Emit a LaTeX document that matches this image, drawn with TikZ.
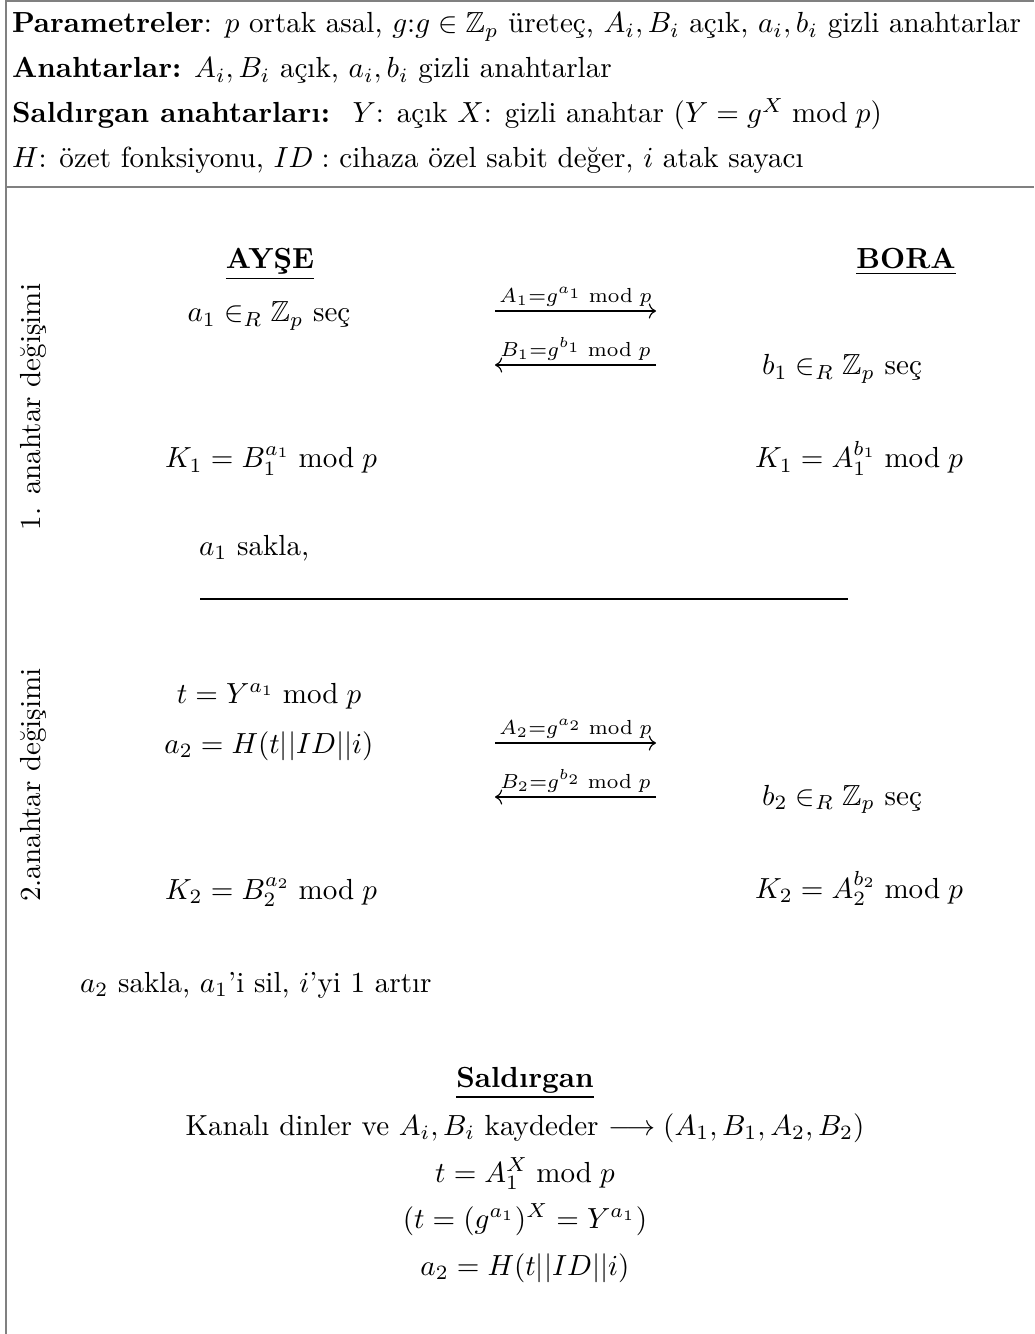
\documentclass[tikz,border=0pt]{standalone}
\usepackage{amsmath}
\usepackage{amssymb}
\usetikzlibrary{arrows.meta,positioning}

\begin{document}
\begin{tikzpicture}[
        x=0.344pt, y=-0.344pt,
        every node/.style={inner sep=0pt, outer sep=0pt},
        frame/.style={draw=black!50, line width=0.8pt},
        party/.style={font=\bfseries, anchor=base},
        step text/.style={anchor=base},
        msg/.style={draw, line width=0.4pt, ->},
        msglabel/.style={font=\scriptsize, above=1.5pt},
    ]
    \useasboundingbox (0,0) rectangle (1034,1334);

    % === FRAME ===
    \coordinate (tl) at (6,1);
    \coordinate (tr) at (1034,1);
    \coordinate (bl) at (6,1334);
    \coordinate (ml) at (6,187);
    \coordinate (mr) at (1034,187);
    \draw[frame] (tr) -- (tl) -- (bl);
    \draw[frame] (ml) -- (mr);

    % === HEADER ===
    \node[anchor=base west] (par) at (12,33) {\textbf{Parametreler}: $p$ ortak asal, $g$:$g\in\mathbb{Z}_p$ üreteç, $A_i,B_i$ açık, $a_i,b_i$ gizli anahtarlar};
    \node[anchor=base west] (keys) at (12,78) {\textbf{Anahtarlar:} $A_i,B_i$ açık, $a_i,b_i$ gizli anahtarlar};
    \node[anchor=base west] (advkeys) at (12,123) {\textbf{Saldırgan anahtarları:} \ $Y$: açık $X$: gizli anahtar $(Y=g^X \bmod p)$};
    \node[anchor=base west] (notes) at (12,168) {$H$: özet fonksiyonu, $ID:$ cihaza özel sabit değer, $i$ atak sayacı};

    % === 1. KEY EXCHANGE ===
    \node[party] (ayse) at (270,269) {\underline{AYŞE}};
    \node[party] (bora) at (906,269) {\underline{BORA}};
    \node[rotate=90] (round1) at (33,407) {1. anahtar değişimi};

    \node[step text] (a1) at (269,322) {$a_1 \in_R \mathbb{Z}_p$ seç};
    \node[step text] (b1) at (842,375) {$b_1 \in_R \mathbb{Z}_p$ seç};
    \node[step text] (K1a) at (271,468) {$K_1 = B_1^{a_1} \bmod p$};
    \node[step text] (K1b) at (859,468) {$K_1 = A_1^{b_1} \bmod p$};

    \coordinate (m1l) at (495,311);
    \coordinate (m1r) at (656,311);
    \coordinate (m2l) at (495,365);
    \coordinate (m2r) at (656,365);
    \draw[msg] (m1l) -- node[msglabel] {$A_1{=}g^{a_1} \bmod p$} (m1r);
    \draw[msg] (m2r) -- node[msglabel] {$B_1{=}g^{b_1} \bmod p$} (m2l);

    \node[anchor=base west] (keep1) at (199,555) {$a_1$ sakla,};
    \coordinate (sepl) at (200,599);
    \coordinate (sepr) at (848,599);
    \draw[line width=0.6pt] (sepl) -- (sepr);

    % === 2. KEY EXCHANGE ===
    \node[rotate=90] (round2) at (33,785) {2.anahtar değişimi};

    \node[step text] (t) at (269,703) {$t = Y^{a_1} \bmod p$};
    \node[step text] (a2) at (269,753) {$a_2 = H(t||ID||i)$};
    \node[step text] (b2) at (842,805) {$b_2 \in_R \mathbb{Z}_p$ seç};
    \node[step text] (K2a) at (271,899) {$K_2 = B_2^{a_2} \bmod p$};
    \node[step text] (K2b) at (859,898) {$K_2 = A_2^{b_2} \bmod p$};

    \coordinate (m3l) at (495,743);
    \coordinate (m3r) at (656,743);
    \coordinate (m4l) at (495,797);
    \coordinate (m4r) at (656,797);
    \draw[msg] (m3l) -- node[msglabel] {$A_2{=}g^{a_2} \bmod p$} (m3r);
    \draw[msg] (m4r) -- node[msglabel] {$B_2{=}g^{b_2} \bmod p$} (m4l);

    \node[anchor=base west] (keep2) at (80,992) {$a_2$ sakla, $a_1$'i sil, $i$'yi 1 artır};

    % === ATTACKER ===
    \node[party] (adv) at (525,1087) {\underline{Saldırgan}};
    \node[step text] (listen) at (525,1135) {Kanalı dinler ve $A_i,B_i$ kaydeder $\longrightarrow (A_1,B_1,A_2,B_2)$};
    \node[step text] (advt) at (525,1182) {$t = A_1^X \bmod p$};
    \node[step text] (advwhy) at (525,1228) {$(t = (g^{a_1})^X = Y^{a_1})$};
    \node[step text] (adva2) at (525,1275) {$a_2 = H(t||ID||i)$};

\end{tikzpicture}
\end{document}
